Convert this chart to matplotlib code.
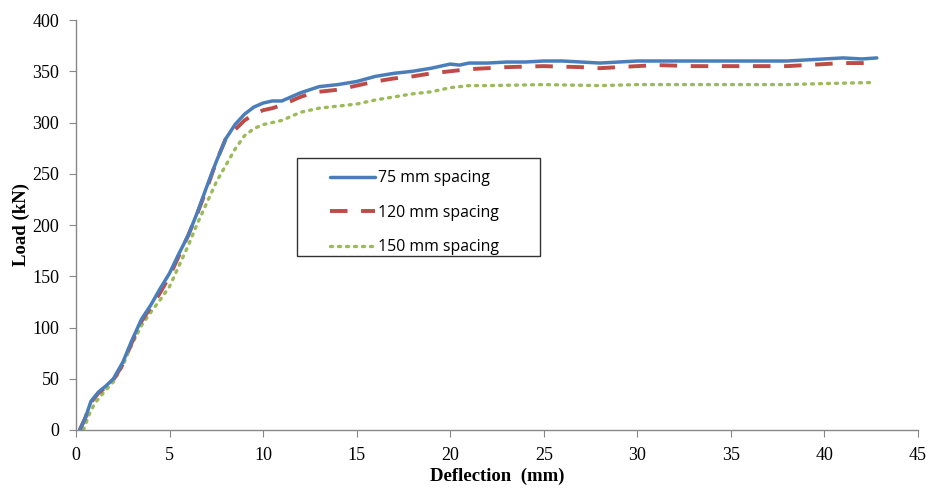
import matplotlib
matplotlib.use('Agg')
import matplotlib.pyplot as plt
import matplotlib.patches as patches

# Load-deflection curves
x_75 = [0.2, 0.5, 0.8, 1.2, 1.6, 2.0, 2.5, 3.0, 3.5, 4.0, 4.5, 5.0, 5.5, 6.0, 6.5, 7.0, 7.5,
        8.0, 8.5, 9.0, 9.5, 10.0, 10.5, 11.0, 11.5, 12.0, 12.5, 13.0, 14.0, 15.0, 16.0, 17.0,
        18.0, 19.0, 20.0, 20.5, 21.0, 22.0, 23.0, 24.0, 25.0, 26.0, 27.0, 28.0, 29.0, 30.0,
        31.0, 32.0, 33.0, 34.0, 35.0, 36.0, 37.0, 38.0, 39.0, 40.0, 41.0, 42.0, 42.8]
load_75 = [0, 12, 28, 37, 43, 50, 66, 88, 108, 122, 138, 153, 172, 190, 213, 238, 262,
           284, 298, 308, 315, 319, 321, 321, 325, 329, 332, 335, 337, 340, 345, 348,
           350, 353, 357, 356, 358, 358, 359, 359, 360, 360, 359, 358, 359, 360,
           360, 360, 360, 360, 360, 360, 360, 360, 361, 362, 363, 362, 363]

x_120 = [0.2, 0.5, 0.8, 1.2, 1.6, 2.0, 2.5, 3.0, 3.5, 4.0, 4.5, 5.0, 5.5, 6.0, 6.5, 7.0, 7.5,
         8.0, 8.5, 9.0, 9.5, 10.0, 10.5, 11.0, 11.5, 12.0, 12.5, 13.0, 14.0, 15.0, 16.0, 17.0,
         18.0, 19.0, 20.0, 21.0, 22.0, 23.0, 25.0, 27.0, 28.0, 30.0, 31.0, 33.0, 35.0, 37.0,
         38.0, 39.0, 40.0, 41.0, 42.0, 42.6]
load_120 = [0, 12, 27, 36, 42, 49, 64, 86, 106, 120, 134, 150, 170, 190, 212, 236, 262,
            284, 293, 302, 308, 312, 314, 317, 321, 325, 328, 330, 332, 336, 340, 343,
            345, 348, 350, 352, 353, 354, 355, 354, 353, 355, 356, 355, 355, 355,
            355, 356, 357, 358, 358, 358]

x_150 = [0.4, 0.7, 1.0, 1.5, 2.0, 2.5, 3.0, 3.5, 4.0, 4.5, 5.0, 5.5, 6.0, 6.5, 7.0, 7.5,
         8.0, 8.5, 9.0, 9.5, 10.0, 10.5, 11.0, 11.5, 12.0, 12.5, 13.0, 14.0, 15.0, 16.0,
         17.0, 18.0, 19.0, 20.0, 21.0, 22.0, 25.0, 28.0, 30.0, 35.0, 38.0, 40.0, 42.5]
load_150 = [0, 15, 26, 37, 47, 63, 84, 102, 115, 127, 140, 160, 180, 202, 222, 242,
            258, 274, 287, 294, 298, 300, 302, 306, 310, 312, 314, 316, 318, 322,
            325, 328, 330, 334, 336, 336, 337, 336, 337, 337, 337, 338, 339]

labels = ['75 mm spacing', '120 mm spacing', '150 mm spacing']
colors = ['#4A7EBB', '#BE4B48', '#9BBB59']

fig = plt.figure(figsize=(9.3, 4.88), dpi=100)
ax = fig.add_axes([76 / 930, 1 - 430 / 488, 842 / 930, 410 / 488])

l1, = ax.plot(x_75, load_75, color=colors[0], lw=2.5, solid_capstyle='round', zorder=3)
l2, = ax.plot(x_120, load_120, color=colors[1], lw=2.8, dashes=(4.5, 3.5), zorder=2)
l3, = ax.plot(x_150, load_150, color=colors[2], lw=2.4, dashes=(0.6, 1.8),
              dash_capstyle='round', zorder=1)

ax.set_xlim(0, 45)
ax.set_ylim(0, 400)
ax.set_xticks(range(0, 46, 5))
ax.set_yticks(range(0, 401, 50))

serif = 'Liberation Serif'
for lab in ax.get_xticklabels() + ax.get_yticklabels():
    lab.set_fontfamily(serif)
    lab.set_fontsize(13)
ax.tick_params(direction='out', length=5, color='#888888')
ax.tick_params(axis='y', pad=7)
ax.tick_params(axis='x', pad=7)

for s in ['top', 'right']:
    ax.spines[s].set_visible(False)
for s in ['left', 'bottom']:
    ax.spines[s].set_color('#888888')
    ax.spines[s].set_linewidth(1.0)

ax.set_xlabel('Deflection  (mm)', fontfamily=serif, fontweight='bold', fontsize=13.5, labelpad=3)
ax.set_ylabel('Load (kN)', fontfamily=serif, fontweight='bold', fontsize=13.5, labelpad=2)

# legend frame drawn separately so the padding can match the reference
x0 = (297 - 76) / 842
x1 = (540 - 76) / 842
y0 = (430 - 256) / 410
y1 = (430 - 158) / 410
frame = patches.Rectangle((x0, y0), x1 - x0, y1 - y0, transform=ax.transAxes,
                          fill=True, facecolor='white', edgecolor='#333333', lw=1.0, zorder=4)
ax.add_patch(frame)
leg = ax.legend([l1, l2, l3], labels, loc='upper left',
                bbox_to_anchor=((316 - 76) / 842, (430 - 156) / 410),
                frameon=False, handlelength=2.85, handletextpad=0.15, labelspacing=1.17,
                prop={'family': 'Open Sans', 'size': 11.4})
leg.set_zorder(5)

fig.savefig('out.png', dpi=100)
